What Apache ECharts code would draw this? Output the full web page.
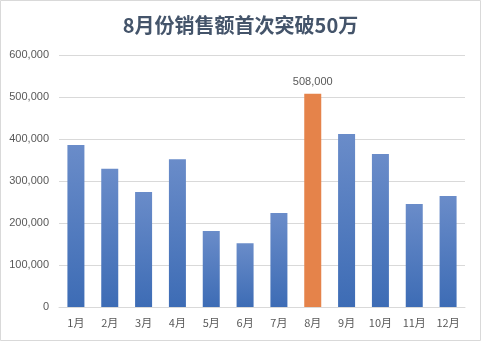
<!DOCTYPE html>
<html>
<head>
<meta charset="utf-8">
<script src="https://cdn.jsdelivr.net/npm/echarts@6/dist/echarts.min.js"></script>
<style>
html,body{margin:0;padding:0;background:#fff;}
#c{width:481px;height:341px;}
</style>
</head>
<body>
<div id="c"></div>
<script>
const title = '8月份销售额首次突破50万';
const categories = ['1月','2月','3月','4月','5月','6月','7月','8月','9月','10月','11月','12月'];
const sales = [386000, 329000, 274000, 352000, 181000, 152000, 224000, 508000, 412000, 364000, 245000, 264000];
const highlightIndex = 7;
const yTicks = { min: 0, max: 600000, interval: 100000 };

const blueGrad = new echarts.graphic.LinearGradient(0, 0, 0, 1, [
  { offset: 0, color: '#6A8CC9' },
  { offset: 1, color: '#3D6CB5' }
]);

const data = sales.map((v, i) => i === highlightIndex ? {
  value: v,
  itemStyle: { color: '#E5834A' },
  label: { show: true, position: 'top', distance: 6, color: '#595959', fontSize: 11,
    formatter: p => p.value.toLocaleString('en-US') }
} : { value: v });

const chart = echarts.init(document.getElementById('c'), null, { renderer: 'canvas' });
chart.setOption({
  animation: false,
  backgroundColor: '#ffffff',
  title: {
    text: title, left: 'center', top: 10,
    textStyle: { fontSize: 20, fontWeight: 'bold', color: '#44546A', fontFamily: 'Noto Sans CJK SC' }
  },
  graphic: [{
    type: 'rect', shape: { x: 0.5, y: 0.5, width: 480, height: 340 },
    style: { fill: 'none', stroke: '#D9D9D9', lineWidth: 1 }, silent: true
  }],
  grid: { left: 59, right: 16, top: 55, bottom: 34 },
  xAxis: {
    type: 'category', data: categories,
    axisLine: { lineStyle: { color: '#D9D9D9' } },
    axisTick: { show: false },
    axisLabel: { color: '#595959', fontSize: 11, margin: 10, fontFamily: 'Noto Sans CJK SC' }
  },
  yAxis: {
    type: 'value', min: yTicks.min, max: yTicks.max, interval: yTicks.interval,
    axisLine: { show: false }, axisTick: { show: false },
    splitLine: { lineStyle: { color: '#D9D9D9' } },
    axisLabel: { color: '#595959', fontSize: 11, margin: 10,
      formatter: v => v.toLocaleString('en-US') }
  },
  series: [{
    type: 'bar', data: data, barWidth: 17,
    itemStyle: { color: blueGrad }
  }]
});
</script>
</body>
</html>
